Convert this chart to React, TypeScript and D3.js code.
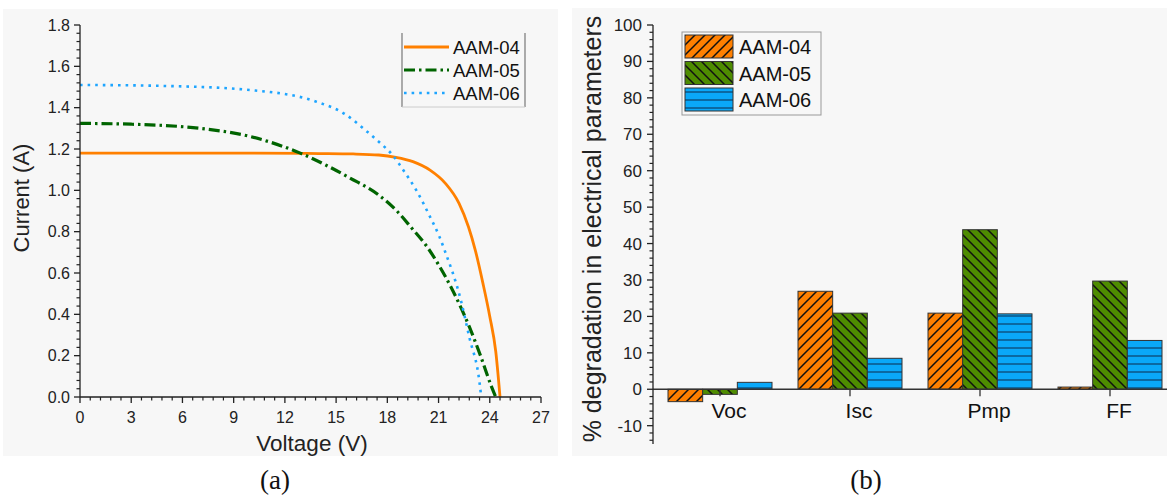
import React from "react";
import * as d3 from "d3";

// ---------- Panel (a): I-V curves ----------
const seriesNames = ["AAM-04", "AAM-05", "AAM-06"];

const v04 = [0, 5, 10, 14, 16, 17.5, 18.5, 19.5, 20.5, 21.4, 22.2, 22.75, 23.15, 23.6, 24.0, 24.35, 24.6];
const i04 = [1.18, 1.18, 1.18, 1.178, 1.176, 1.171, 1.16, 1.139, 1.098, 1.034, 0.937, 0.824, 0.711, 0.55, 0.39, 0.22, 0];

const v05 = [0, 3, 7, 10, 12.9, 15.8, 17.5, 18.5, 19.4, 20.3, 21.0, 21.8, 22.8, 23.5, 24.1, 24.35];
const i05 = [1.324, 1.32, 1.3, 1.26, 1.18, 1.06, 0.977, 0.905, 0.82, 0.73, 0.64, 0.52, 0.34, 0.19, 0.05, 0];

const v06 = [0, 5, 10, 13.8, 15.5, 16.8, 17.6, 18.3, 19.0, 19.7, 20.5, 21.05, 21.35, 22.3, 22.8, 23.4, 23.5];
const i06 = [1.51, 1.505, 1.485, 1.43, 1.37, 1.285, 1.228, 1.171, 1.09, 1.0, 0.872, 0.776, 0.711, 0.47, 0.29, 0.07, 0];

const voltageTicks = [0, 3, 6, 9, 12, 15, 18, 21, 24, 27];
const currentTicks = [0, 0.2, 0.4, 0.6, 0.8, 1.0, 1.2, 1.4, 1.6, 1.8];

// ---------- Panel (b): degradation bars ----------
const parameters = ["Voc", "Isc", "Pmp", "FF"];
const deg04 = [-3.4, 26.9, 20.9, 0.6];
const deg05 = [-1.4, 20.9, 43.8, 29.7];
const deg06 = [1.9, 8.5, 20.7, 13.4];
const degTicks = [-10, 0, 10, 20, 30, 40, 50, 60, 70, 80, 90, 100];

const FONT = "Arial, 'Liberation Sans', Helvetica, sans-serif";
const SERIF = "'Times New Roman', 'Liberation Serif', serif";

export default function App() {
  // scales panel a
  const xA = d3.scaleLinear().domain([0, 27]).range([80, 541]);
  const yA = d3.scaleLinear().domain([0, 1.8]).range([397, 25]);
  const line = d3
    .line<[number, number]>()
    .x((d) => xA(d[0]))
    .y((d) => yA(d[1]))
    .curve(d3.curveMonotoneX);
  const curves = [
    { v: v04, i: i04, color: "#FF8000", dash: undefined, width: 2.8 },
    { v: v05, i: i05, color: "#006400", dash: "11,4,2.5,4", width: 3.2 },
    { v: v06, i: i06, color: "#1EA5FF", dash: "2.6,5", width: 2.6 },
  ];
  const xMinorA: number[] = [];
  for (let k = 0; k <= 45; k++) if (k % 5 !== 0) xMinorA.push(k * 0.6);
  const yMinorA: number[] = [];
  for (let k = 0; k <= 45; k++) if (k % 5 !== 0) yMinorA.push(k * 0.04);

  // scales panel b
  const xB = d3.scaleBand().domain(parameters).range([655, 1175]).paddingInner(0.2).paddingOuter(0.1);
  const xSub = d3.scaleBand().domain(seriesNames).range([0, xB.bandwidth()]);
  const yB = d3.scaleLinear().domain([-15, 100]).range([443.9, 25]);
  const yMinorB: number[] = [];
  for (let k = -15; k <= 100; k++) if (k % 2 === 0 && k % 10 !== 0) yMinorB.push(k);
  const barSeries = [
    { name: seriesNames[0], vals: deg04, fill: "url(#hatchOrange)" },
    { name: seriesNames[1], vals: deg05, fill: "url(#hatchGreen)" },
    { name: seriesNames[2], vals: deg06, fill: "url(#hatchBlue)" },
  ];

  return (
    <svg
      width={1167}
      height={497}
      style={{ position: "absolute", left: 0, top: 0, background: "#fff" }}
      fontFamily={FONT}
    >
      <defs>
        <pattern id="hatchOrange" patternUnits="userSpaceOnUse" width={10} height={10}>
          <rect width={10} height={10} fill="#FF8000" />
          <path d="M-1,1 l2,-2 M0,10 l10,-10 M9,11 l2,-2" stroke="#111" strokeWidth={1.5} />
        </pattern>
        <pattern id="hatchGreen" patternUnits="userSpaceOnUse" width={10} height={10}>
          <rect width={10} height={10} fill="#4E8C00" />
          <path d="M-1,9 l2,2 M0,0 l10,10 M9,-1 l2,2" stroke="#111" strokeWidth={1.5} />
        </pattern>
        <pattern id="hatchBlue" patternUnits="userSpaceOnUse" width={10} height={8}>
          <rect width={10} height={8} fill="#0AA8F8" />
          <line x1={0} x2={10} y1={4} y2={4} stroke="#0b2a4a" strokeWidth={1} />
        </pattern>
      </defs>

      {/* panel backgrounds */}
      <rect x={3} y={9} width={555} height={447} fill="#f7f7f7" />
      <rect x={572} y={8} width={595} height={448} fill="#f7f7f7" />

      {/* ---------- Panel a ---------- */}
      <g>
        {curves.map((c, idx) => (
          <path
            key={idx}
            d={line(c.v.map((v, j) => [v, c.i[j]] as [number, number])) || ""}
            fill="none"
            stroke={c.color}
            strokeWidth={c.width}
            strokeDasharray={c.dash}
          />
        ))}
        {/* axes */}
        <line x1={xA(0)} x2={xA(27)} y1={yA(0)} y2={yA(0)} stroke="#222" strokeWidth={1.3} />
        <line x1={xA(0)} x2={xA(0)} y1={yA(0)} y2={yA(1.8)} stroke="#222" strokeWidth={1.3} />
        {voltageTicks.map((t) => (
          <g key={"xt" + t}>
            <line x1={xA(t)} x2={xA(t)} y1={yA(0)} y2={yA(0) + 6} stroke="#222" strokeWidth={1.3} />
            <text x={xA(t)} y={yA(0) + 25.5} textAnchor="middle" fontSize={16} fill="#222">
              {t}
            </text>
          </g>
        ))}
        {xMinorA.map((t) => (
          <line key={"xm" + t} x1={xA(t)} x2={xA(t)} y1={yA(0)} y2={yA(0) + 3.5} stroke="#222" strokeWidth={1.2} />
        ))}
        {currentTicks.map((t) => (
          <g key={"yt" + t}>
            <line x1={xA(0) - 6} x2={xA(0)} y1={yA(t)} y2={yA(t)} stroke="#222" strokeWidth={1.3} />
            <text x={xA(0) - 10} y={yA(t) + 5.5} textAnchor="end" fontSize={16} fill="#222">
              {t.toFixed(1)}
            </text>
          </g>
        ))}
        {yMinorA.map((t) => (
          <line key={"ym" + t} x1={xA(0) - 3.5} x2={xA(0)} y1={yA(t)} y2={yA(t)} stroke="#222" strokeWidth={1.2} />
        ))}
        <text x={312} y={451} textAnchor="middle" fontSize={22.5} fill="#222">
          Voltage (V)
        </text>
        <text transform={`translate(29,198) rotate(-90)`} textAnchor="middle" fontSize={22} fill="#222">
          Current (A)
        </text>
        {/* legend */}
        <line x1={402} x2={402} y1={33} y2={107} stroke="#777" strokeWidth={1.2} />
        <line x1={525} x2={525} y1={33} y2={107} stroke="#777" strokeWidth={1.2} />
        <line x1={402} x2={525} y1={107} y2={107} stroke="#ccc" strokeWidth={1} />
        {curves.map((c, idx) => (
          <g key={"lg" + idx}>
            <line
              x1={404}
              x2={449}
              y1={47 + idx * 23}
              y2={47 + idx * 23}
              stroke={c.color}
              strokeWidth={c.width}
              strokeDasharray={c.dash}
            />
            <text x={453} y={53.5 + idx * 23} fontSize={18.5} fill="#111">
              {seriesNames[idx]}
            </text>
          </g>
        ))}
        <text x={275} y={489} textAnchor="middle" fontSize={27} fontFamily={SERIF} fill="#111">
          (a)
        </text>
      </g>

      {/* ---------- Panel b ---------- */}
      <g>
        {parameters.map((p, pi) => (
          <g key={p} transform={`translate(${xB(p)},0)`}>
            {barSeries.map((s) => {
              const v = s.vals[pi];
              const y0 = yB(0);
              const y1 = yB(v);
              return (
                <rect
                  key={s.name}
                  x={xSub(s.name)}
                  y={Math.min(y0, y1)}
                  width={xSub.bandwidth()}
                  height={Math.abs(y1 - y0)}
                  fill={s.fill}
                  stroke="#333"
                  strokeWidth={1}
                />
              );
            })}
          </g>
        ))}
        {/* axes */}
        <line x1={653} x2={1167} y1={yB(0)} y2={yB(0)} stroke="#333" strokeWidth={1.3} />
        <line x1={653} x2={653} y1={yB(-15)} y2={yB(100)} stroke="#222" strokeWidth={1.3} />
        {parameters.map((p) => {
          const cx = xB(p)! + xB.bandwidth() / 2;
          return (
            <g key={"cat" + p}>
              <line x1={cx} x2={cx} y1={yB(0)} y2={yB(0) + 7} stroke="#333" strokeWidth={1.3} />
              <text x={cx + 9} y={418} textAnchor="middle" fontSize={21} fill="#111">
                {p}
              </text>
            </g>
          );
        })}
        {degTicks.map((t) => (
          <g key={"dt" + t}>
            <line x1={647} x2={653} y1={yB(t)} y2={yB(t)} stroke="#222" strokeWidth={1.3} />
            <text x={642} y={yB(t) + 6} textAnchor="end" fontSize={17} fill="#222">
              {t}
            </text>
          </g>
        ))}
        {yMinorB.map((t) => (
          <line key={"dm" + t} x1={649.5} x2={653} y1={yB(t)} y2={yB(t)} stroke="#222" strokeWidth={1.2} />
        ))}
        <text transform={`translate(601,229) rotate(-90)`} textAnchor="middle" fontSize={25} fill="#222">
          % degradation in electrical parameters
        </text>
        {/* legend */}
        <rect x={682} y={32} width={139} height={83} fill="none" stroke="#999" strokeWidth={1} />
        {barSeries.map((s, idx) => (
          <g key={"bl" + idx}>
            <rect x={685} y={35 + idx * 26.5} width={48} height={23} fill={s.fill} stroke="#333" strokeWidth={1} />
            <text x={739} y={54 + idx * 26.5} fontSize={20} fill="#111">
              {s.name}
            </text>
          </g>
        ))}
        <text x={866} y={489} textAnchor="middle" fontSize={27} fontFamily={SERIF} fill="#111">
          (b)
        </text>
      </g>
    </svg>
  );
}
